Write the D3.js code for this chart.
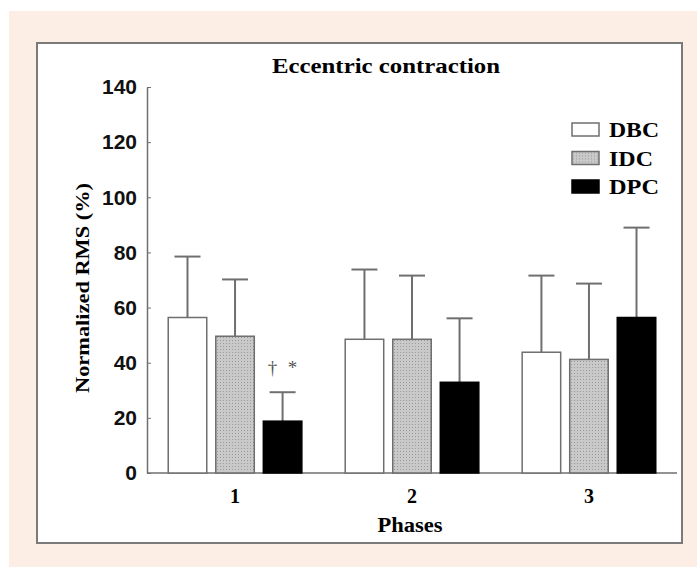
<!DOCTYPE html>
<html>
  <head>
    <meta charset="utf-8">
    <title>Eccentric contraction</title>
    <script src="https://d3js.org/d3.v7.min.js"></script>
    <style>
      body { margin: 0; background: #fff; }
    </style>
  </head>

  <body>
    <script>
      // data
      var phases = ["1", "2", "3"];
      var series = ["DBC", "IDC", "DPC"];
      var dbcMean = [56.4, 48.5, 43.8];
      var dbcSd = [22.1, 25.3, 27.8];
      var idcMean = [49.6, 48.5, 41.2];
      var idcSd = [20.6, 23.1, 27.5];
      var dpcMean = [18.8, 32.9, 56.4];
      var dpcSd = [10.5, 23.2, 32.6];
      var yTicks = [0, 20, 40, 60, 80, 100, 120, 140];

      var means = { DBC: dbcMean, IDC: idcMean, DPC: dpcMean };
      var sds = { DBC: dbcSd, IDC: idcSd, DPC: dpcSd };

      var width = 697, height = 567;
      var serif = "'Liberation Serif', 'Times New Roman', serif";
      var sans = "'Liberation Sans', Arial, sans-serif";
      var grey = "#6f6f6f";

      var svg = d3.select("body")
        .append("svg")
          .attr("width", width)
          .attr("height", height);

      // dotted fill for IDC
      var pat = svg.append("defs").append("pattern")
          .attr("id", "dots")
          .attr("width", 3)
          .attr("height", 3)
          .attr("patternUnits", "userSpaceOnUse");
      pat.append("rect").attr("width", 3).attr("height", 3).attr("fill", "#c9c9c9");
      pat.append("rect").attr("x", 1).attr("y", 1).attr("width", 1).attr("height", 1).attr("fill", "#9a9a9a");

      // page background and framed panel
      svg.append("rect")
          .attr("x", 9).attr("y", 11)
          .attr("width", width - 9).attr("height", height - 11)
          .attr("fill", "#fdeee5");
      svg.append("rect")
          .attr("x", 37).attr("y", 43)
          .attr("width", 645).attr("height", 500)
          .attr("fill", "#fff")
          .attr("stroke", "#7a7a7a")
          .attr("stroke-width", 2);

      var y = d3.scaleLinear().domain([0, 140]).range([473, 87]);
      var x0 = d3.scaleBand().domain(phases).range([147, 677])
          .paddingInner(0.245).paddingOuter(0.12);
      var x1 = d3.scaleBand().domain(series).range([0, x0.bandwidth()])
          .paddingInner(0.19).paddingOuter(0);
      var fills = d3.scaleOrdinal().domain(series).range(["#fff", "url(#dots)", "#000"]);

      // y axis
      var yAxis = svg.append("g")
          .attr("transform", "translate(147,0)")
          .call(d3.axisLeft(y).tickValues(yTicks).tickSizeInner(-4).tickSizeOuter(0).tickPadding(10));
      yAxis.select(".domain").attr("stroke", grey).attr("stroke-width", 1.5);
      yAxis.selectAll(".tick line").attr("stroke", grey);
      yAxis.selectAll(".tick text")
          .attr("font-family", sans)
          .attr("font-weight", "bold")
          .attr("font-size", 21)
          .attr("fill", "#111");

      // x axis line
      svg.append("line")
          .attr("x1", 147).attr("x2", 677)
          .attr("y1", y(0)).attr("y2", y(0))
          .attr("stroke", grey).attr("stroke-width", 1.5);

      var rows = [];
      phases.forEach(function(p, i) {
        series.forEach(function(s) {
          rows.push({ phase: p, key: s, mean: means[s][i], sd: sds[s][i] });
        });
      });

      var cx = function(d) { return x0(d.phase) + x1(d.key) + x1.bandwidth() / 2; };

      // error bars (upper only), drawn behind bars
      var err = svg.append("g").attr("stroke", grey).attr("stroke-width", 2);
      err.selectAll("line.stem")
        .data(rows)
        .enter().append("line")
          .attr("class", "stem")
          .attr("x1", cx).attr("x2", cx)
          .attr("y1", function(d) { return y(d.mean); })
          .attr("y2", function(d) { return y(d.mean + d.sd); });
      err.selectAll("line.cap")
        .data(rows)
        .enter().append("line")
          .attr("class", "cap")
          .attr("x1", function(d) { return cx(d) - 13; })
          .attr("x2", function(d) { return cx(d) + 13; })
          .attr("y1", function(d) { return y(d.mean + d.sd); })
          .attr("y2", function(d) { return y(d.mean + d.sd); });

      svg.append("g").selectAll("rect")
        .data(rows)
        .enter().append("rect")
          .attr("x", function(d) { return x0(d.phase) + x1(d.key); })
          .attr("y", function(d) { return y(d.mean); })
          .attr("width", x1.bandwidth())
          .attr("height", function(d) { return y(0) - y(d.mean); })
          .attr("fill", function(d) { return fills(d.key); })
          .attr("stroke", function(d) { return d.key == "DPC" ? "#000" : grey; })
          .attr("stroke-width", 1.5);

      // significance marks over DPC, phase 1
      var sig = rows[2];
      svg.selectAll("text.sig")
        .data(["\u2020", "*"])
        .enter().append("text")
          .attr("class", "sig")
          .attr("x", function(d, i) { return cx(sig) - 10 + i * 20; })
          .attr("y", y(sig.mean + sig.sd) - 18)
          .attr("text-anchor", "middle")
          .attr("font-family", serif)
          .attr("font-size", 19)
          .attr("fill", "#555")
          .text(function(d) { return d; });

      // phase labels
      svg.selectAll("text.phase")
        .data(phases)
        .enter().append("text")
          .attr("class", "phase")
          .attr("x", function(d) { return x0(d) + x0.bandwidth() / 2; })
          .attr("y", 503)
          .attr("text-anchor", "middle")
          .attr("font-family", serif)
          .attr("font-weight", "bold")
          .attr("font-size", 20)
          .text(function(d) { return d; });

      svg.append("text")
          .attr("x", 410).attr("y", 532)
          .attr("text-anchor", "middle")
          .attr("font-family", serif)
          .attr("font-weight", "bold")
          .attr("font-size", 20)
          .attr("textLength", 65)
          .attr("lengthAdjust", "spacingAndGlyphs")
          .text("Phases");

      svg.append("text")
          .attr("x", 386).attr("y", 73)
          .attr("text-anchor", "middle")
          .attr("font-family", serif)
          .attr("font-weight", "bold")
          .attr("font-size", 20)
          .attr("textLength", 228)
          .attr("lengthAdjust", "spacingAndGlyphs")
          .text("Eccentric contraction");

      svg.append("text")
          .attr("transform", "translate(89,288) rotate(-90)")
          .attr("text-anchor", "middle")
          .attr("font-family", serif)
          .attr("font-weight", "bold")
          .attr("font-size", 19)
          .attr("textLength", 210)
          .attr("lengthAdjust", "spacingAndGlyphs")
          .text("Normalized RMS (%)");

      // legend
      var legend = svg.append("g").selectAll("g")
        .data(series)
        .enter().append("g")
          .attr("transform", function(d, i) { return "translate(572," + (123 + i * 28.5) + ")"; });
      legend.append("rect")
          .attr("width", 27).attr("height", 13)
          .attr("fill", function(d) { return fills(d); })
          .attr("stroke", function(d) { return d == "DPC" ? "#000" : grey; })
          .attr("stroke-width", 1.5);
      legend.append("text")
          .attr("x", 37).attr("y", 14)
          .attr("font-family", serif)
          .attr("font-weight", "bold")
          .attr("font-size", 21)
          .attr("textLength", function(d) { return d == "IDC" ? 44 : 50; })
          .attr("lengthAdjust", "spacingAndGlyphs")
          .text(function(d) { return d; });
    </script>
  </body>
</html>
